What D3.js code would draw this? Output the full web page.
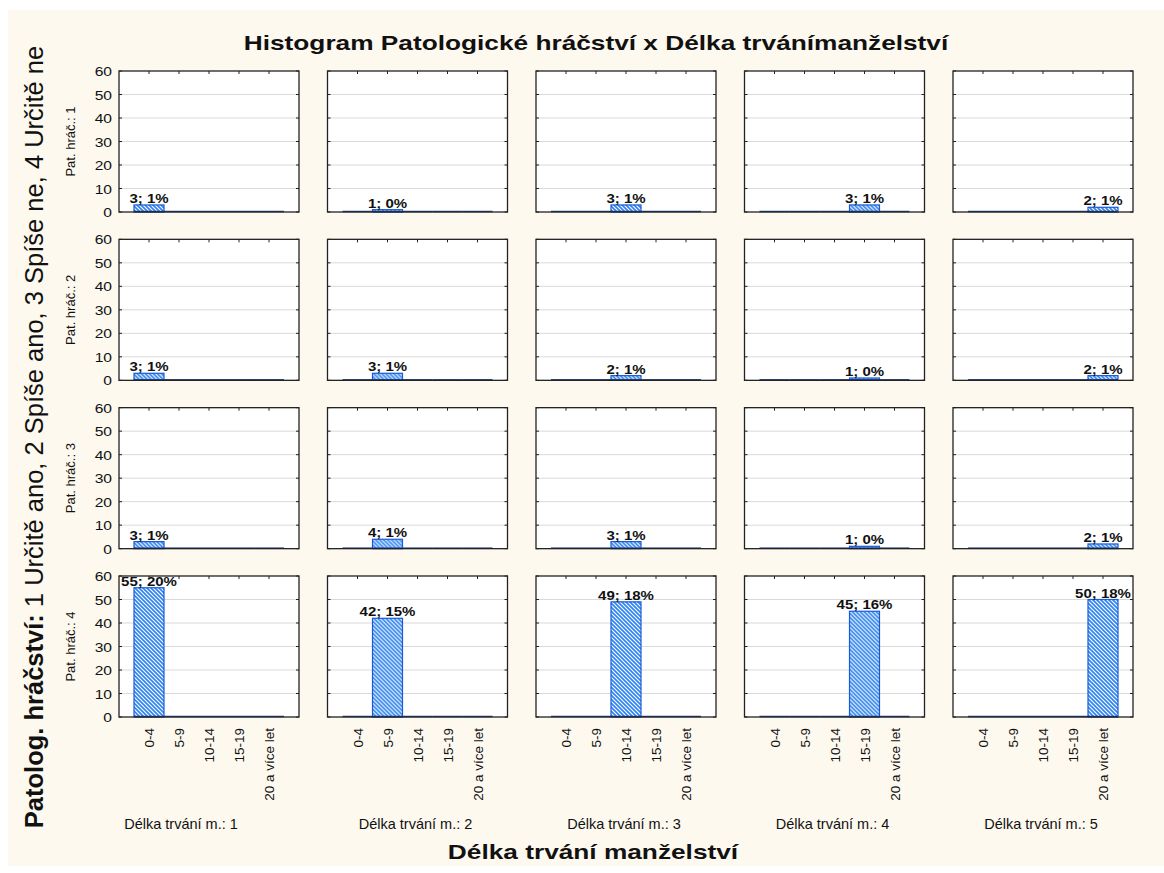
<!DOCTYPE html>
<html>
<head>
<meta charset="utf-8">
<script src="https://cdn.jsdelivr.net/npm/d3@7"></script>
<style>
  body { margin: 0; background: #fff; }
  svg text { font-family: Arial, "Liberation Sans", sans-serif; fill: #111; }
</style>
</head>
<body>
<svg id="chart" width="1164" height="873"></svg>
<script>
// categories (x) and panel names
const categories = ["0-4", "5-9", "10-14", "15-19", "20 a více let"];
const rowNames = ["Pat. hráč.: 1", "Pat. hráč.: 2", "Pat. hráč.: 3", "Pat. hráč.: 4"];
const colNames = ["Délka trvání m.: 1", "Délka trvání m.: 2", "Délka trvání m.: 3", "Délka trvání m.: 4", "Délka trvání m.: 5"];
const yTicks = [0, 10, 20, 30, 40, 50, 60];

// counts: one array per row (Pat. hráč.), one entry per column panel, bars per category
const hrac1 = [[3, 0, 0, 0, 0], [0, 1, 0, 0, 0], [0, 0, 3, 0, 0], [0, 0, 0, 3, 0], [0, 0, 0, 0, 2]];
const hrac2 = [[3, 0, 0, 0, 0], [0, 3, 0, 0, 0], [0, 0, 2, 0, 0], [0, 0, 0, 1, 0], [0, 0, 0, 0, 2]];
const hrac3 = [[3, 0, 0, 0, 0], [0, 4, 0, 0, 0], [0, 0, 3, 0, 0], [0, 0, 0, 1, 0], [0, 0, 0, 0, 2]];
const hrac4 = [[55, 0, 0, 0, 0], [0, 42, 0, 0, 0], [0, 0, 49, 0, 0], [0, 0, 0, 45, 0], [0, 0, 0, 0, 50]];
const rows = [hrac1, hrac2, hrac3, hrac4];

const total = d3.sum(rows, r => d3.sum(r, p => d3.sum(p)));

const svg = d3.select("#chart");

svg.append("rect")
  .attr("x", 8).attr("y", 10)
  .attr("width", 1156).attr("height", 856)
  .attr("fill", "#fdf9ef");

// hatch pattern for the bars
const pat = svg.append("defs").append("pattern")
  .attr("id", "hatch")
  .attr("patternUnits", "userSpaceOnUse")
  .attr("width", 4).attr("height", 4);
pat.append("rect").attr("width", 4).attr("height", 4).attr("fill", "#fff");
pat.append("path")
  .attr("d", "M-1,-1 L5,5 M-1,3 L1,5 M3,-1 L5,1")
  .attr("stroke", "#2f84f0")
  .attr("stroke-width", 1.7);

const panelW = 180, panelH = 141;
const colX = d3.scaleLinear().domain([0, 4]).range([119, 953]);
const rowY = d3.scaleLinear().domain([0, 3]).range([71, 576]);

const x = d3.scaleBand().domain(categories).range([15, 165]).padding(0);
const y = d3.scaleLinear().domain([0, 60]).range([panelH, 0]);

rows.forEach(function (row, ri) {
  row.forEach(function (counts, ci) {
    const g = svg.append("g")
      .attr("transform", "translate(" + colX(ci) + "," + rowY(ri) + ")");

    g.append("rect")
      .attr("width", panelW).attr("height", panelH)
      .attr("fill", "#fff");

    // grid lines
    g.selectAll(".grid")
      .data(yTicks.filter(t => t > 0 && t < 60))
      .join("line")
      .attr("x1", 0).attr("x2", panelW)
      .attr("y1", d => y(d)).attr("y2", d => y(d))
      .attr("stroke", "#d9d9d9");

    // ticks inside the frame
    const tk = g.append("g").attr("stroke", "#222");
    tk.selectAll(".tl").data(yTicks).join("line")
      .attr("x1", 0).attr("x2", 3)
      .attr("y1", d => y(d)).attr("y2", d => y(d));
    tk.selectAll(".tr").data(yTicks).join("line")
      .attr("x1", panelW - 3).attr("x2", panelW)
      .attr("y1", d => y(d)).attr("y2", d => y(d));
    tk.selectAll(".tt").data(categories).join("line")
      .attr("x1", d => x(d) + x.bandwidth() / 2).attr("x2", d => x(d) + x.bandwidth() / 2)
      .attr("y1", 0).attr("y2", 3);

    const data = categories.map((c, i) => ({ cat: c, v: counts[i] }));

    // bars
    g.selectAll(".bar")
      .data(data.filter(d => d.v > 0))
      .join("rect")
      .attr("x", d => x(d.cat))
      .attr("y", d => y(d.v))
      .attr("width", x.bandwidth())
      .attr("height", d => y(0) - y(d.v))
      .attr("fill", "url(#hatch)")
      .attr("stroke", "#1a5ad6")
      .attr("stroke-width", 1.2);

    // zero baseline of every bar
    g.selectAll(".base")
      .data(data)
      .join("line")
      .attr("x1", d => x(d.cat)).attr("x2", d => x(d.cat) + x.bandwidth())
      .attr("y1", y(0) - 0.5).attr("y2", y(0) - 0.5)
      .attr("stroke", "#1f3f96")
      .attr("stroke-width", 1.5);

    // frame
    g.append("rect")
      .attr("width", panelW).attr("height", panelH)
      .attr("fill", "none")
      .attr("stroke", "#222")
      .attr("stroke-width", 1.3);

    // value labels
    g.selectAll(".lbl")
      .data(data.filter(d => d.v > 0))
      .join("text")
      .attr("transform", d => "translate(" + (x(d.cat) + x.bandwidth() / 2) + "," + (y(d.v) - 2) + ") scale(1.25,1)")
      .attr("text-anchor", "middle")
      .attr("font-size", 12)
      .attr("font-weight", "bold")
      .text(d => d.v + "; " + Math.round(d.v / total * 100) + "%");

    if (ci === 0) {
      // y tick labels
      g.selectAll(".yl")
        .data(yTicks)
        .join("text")
        .attr("transform", d => "translate(-7," + (y(d) + 5) + ") scale(1.2,1)")
        .attr("text-anchor", "end")
        .attr("font-size", 13)
        .text(d => d);

      // row label
      g.append("text")
        .attr("transform", "translate(-44," + panelH / 2 + ") rotate(-90)")
        .attr("text-anchor", "middle")
        .attr("font-size", 13)
        .text(rowNames[ri]);
    }

    // x tick labels & column label under the last row
    if (ri === rows.length - 1) {
      g.selectAll(".xl")
        .data(categories)
        .join("text")
        .attr("transform", d => "translate(" + (x(d) + x.bandwidth() / 2 + 5) + "," + (panelH + 11) + ") rotate(-90)")
        .attr("text-anchor", "end")
        .attr("font-size", 13.5)
        .text(d => d);

      g.append("text")
        .attr("x", ci === 0 ? panelW / 2 - 28 : panelW / 2 - 2)
        .attr("y", 253)
        .attr("text-anchor", "middle")
        .attr("font-size", 14.5)
        .text(colNames[ci]);
    }
  });
});

// titles
svg.append("text")
  .attr("transform", "translate(596,50) scale(1.25,1)")
  .attr("text-anchor", "middle")
  .attr("font-size", 21)
  .attr("font-weight", "bold")
  .text("Histogram Patologické hráčství x Délka trvánímanželství");

svg.append("text")
  .attr("transform", "translate(593,859) scale(1.25,1)")
  .attr("text-anchor", "middle")
  .attr("font-size", 21)
  .attr("font-weight", "bold")
  .text("Délka trvání manželství");

const yTitle = svg.append("text")
  .attr("transform", "translate(43,437) rotate(-90)")
  .attr("text-anchor", "middle")
  .attr("font-size", 25.5);
yTitle.append("tspan").attr("font-weight", "bold").text("Patolog. hráčství:");
yTitle.append("tspan").text(" 1 Určitě ano, 2 Spíše ano, 3 Spíše ne, 4 Určitě ne");
</script>
</body>
</html>
